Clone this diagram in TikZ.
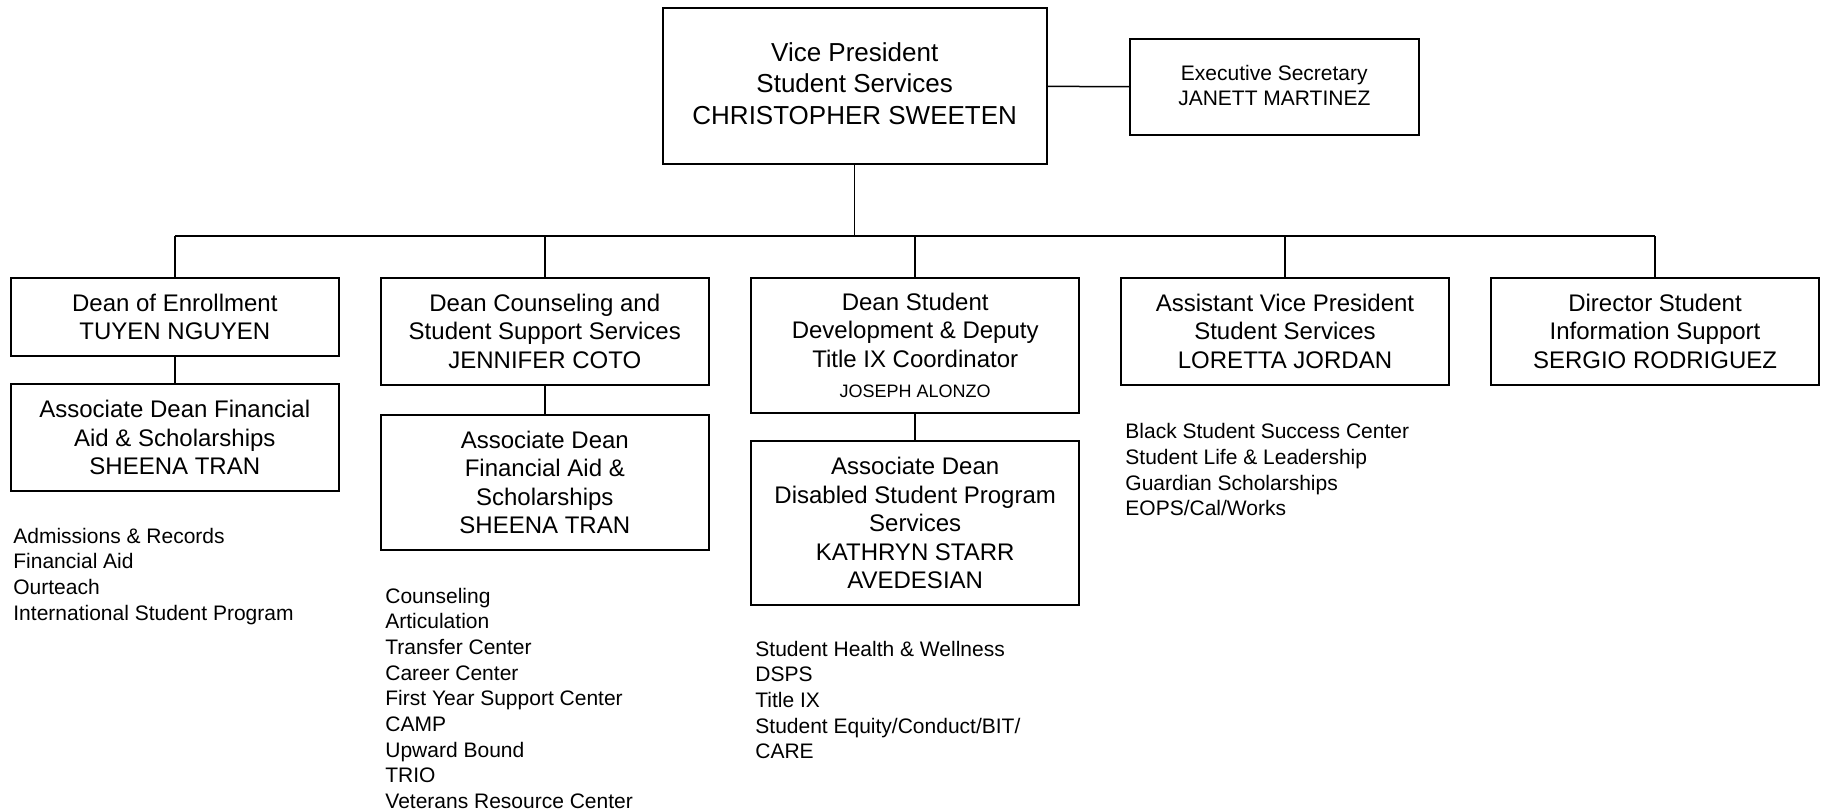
\documentclass[tikz,border=0pt]{standalone}
\usepackage{fontspec}
\setmainfont{Liberation Sans}

\begin{document}
\begin{tikzpicture}[x=0.5pt,y=-0.5pt,
        box/.style={draw,line width=1pt,inner sep=0pt,align=center,anchor=north,
            minimum width=164.25pt,font=\fontsize{12}{14.25}\selectfont},
        lst/.style={inner sep=0pt,align=left,anchor=north west,
            font=\fontsize{10.5}{12.85}\selectfont},
        link/.style={line width=0.75pt}]
        \useasboundingbox (0,0) rectangle (1823,811);
        % top
        \node[box,minimum width=192pt,minimum height=78.2pt,text depth=2.5pt,font=\fontsize{13}{15.8}\selectfont](vp) at(854.7,6.7){Vice President\\Student Services\\CHRISTOPHER SWEETEN};
        \node[box,minimum width=144.3pt,minimum height=48pt,text depth=1.7pt,font=\fontsize{10.5}{12.15}\selectfont](sec) at(1274.3,38){Executive Secretary\\JANETT MARTINEZ};
        % deans
        \node[box,minimum height=38.75pt](d1) at(174.8,277){Dean of Enrollment\\TUYEN NGUYEN};
        \node[box,minimum height=53.25pt](d2) at(544.8,277){Dean Counseling and\\Student Support Services\\JENNIFER COTO};
        \node[box,minimum height=67.35pt](d3) at(915.2,277){Dean Student\\Development \& Deputy\\Title IX Coordinator\\[1pt]{\fontsize{9}{10}\selectfont JOSEPH ALONZO}};
        \node[box,minimum height=53.25pt](d4) at(1285,277){Assistant Vice President\\Student Services\\LORETTA JORDAN};
        \node[box,minimum height=53.25pt](d5) at(1655,277){Director Student\\Information Support\\SERGIO RODRIGUEZ};
        % associate deans
        \node[box,minimum height=53.5pt](a1) at(174.8,383.3){Associate Dean Financial\\Aid \& Scholarships\\SHEENA TRAN};
        \node[box,minimum height=67.65pt](a2) at(544.8,414){Associate Dean\\Financial Aid \&\\Scholarships\\SHEENA TRAN};
        \node[box,minimum height=82.15pt](a3) at(915.2,440){Associate Dean\\Disabled Student Program\\Services\\KATHRYN STARR\\AVEDESIAN};
        % areas
        \node[lst](l1) at(13,527.4){Admissions \& Records\\Financial Aid\\Ourteach\\International Student Program};
        \node[lst](l2) at(385,587.4){Counseling\\Articulation\\Transfer Center\\Career Center\\First Year Support Center\\CAMP\\Upward Bound\\TRIO\\Veterans Resource Center};
        \node[lst](l3) at(755,640.4){Student Health \& Wellness\\DSPS\\Title IX\\Student Equity/Conduct/BIT/\\CARE};
        \node[lst](l4) at(1125,423.1){Black Student Success Center\\Student Life \& Leadership\\Guardian Scholarships\\EOPS/Cal/Works};
        % lines
        \coordinate(bus) at(854.7,236);
        \draw[link](vp)--(sec);
        \draw[link](vp.south)--(bus);
        \draw[line width=1pt](d1.north|-bus)--(d5.north|-bus);
        \foreach \d in {d1,d2,d3,d4,d5}
            \draw[link](\d.north)--(\d.north|-bus);
        \draw[link](d1)--(a1);
        \draw[link](d2)--(a2);
        \draw[link](d3)--(a3);
    \end{tikzpicture}
\end{document}
